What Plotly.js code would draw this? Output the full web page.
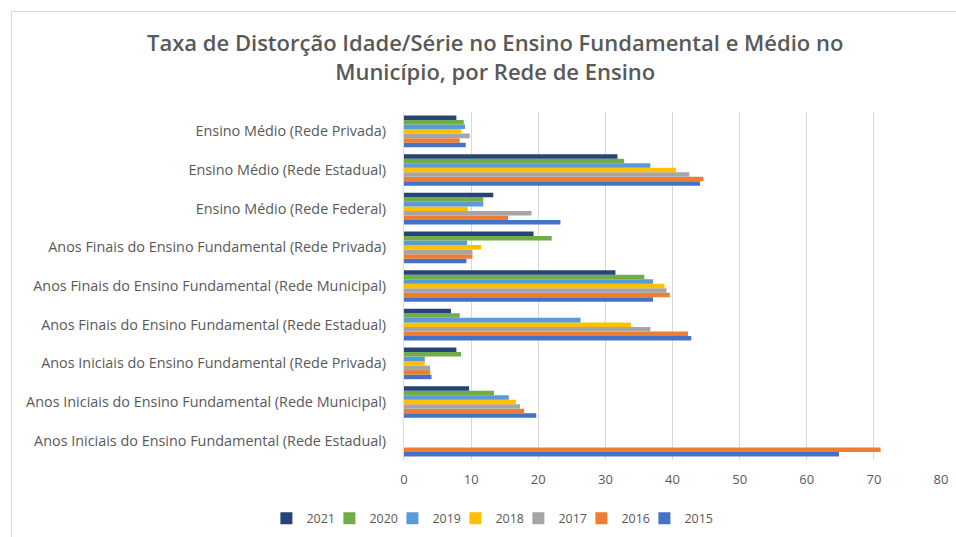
<!DOCTYPE html>
<html>
<head>
<meta charset="utf-8">
<script src="https://cdn.plot.ly/plotly-3.0.1.min.js"></script>
<style>
  html, body { margin: 0; padding: 0; background: #fff; }
  #wrap { position: relative; width: 956px; height: 537px; overflow: hidden; }
  #chart { width: 956px; height: 537px; }
  #frame { position: absolute; left: 11px; top: 11px; width: 960px; height: 540px;
           border-left: 1px solid #D9D9D9; border-top: 1px solid #D9D9D9; pointer-events: none; }
</style>
</head>
<body>
<div id="wrap">
  <div id="chart"></div>
  <div id="frame"></div>
</div>
<script>
const categories = [
  "Anos Iniciais do Ensino Fundamental (Rede Estadual)",
  "Anos Iniciais do Ensino Fundamental (Rede Municipal)",
  "Anos Iniciais do Ensino Fundamental (Rede Privada)",
  "Anos Finais do Ensino Fundamental (Rede Estadual)",
  "Anos Finais do Ensino Fundamental (Rede Municipal)",
  "Anos Finais do Ensino Fundamental (Rede Privada)",
  "Ensino Médio (Rede Federal)",
  "Ensino Médio (Rede Estadual)",
  "Ensino Médio (Rede Privada)"
];
const years = ["2015", "2016", "2017", "2018", "2019", "2020", "2021"];
const v2015 = [64.8, 19.7, 4.1, 42.8, 37.1, 9.3, 23.3, 44.1, 9.2];
const v2016 = [71.0, 17.9, 3.9, 42.3, 39.6, 10.2, 15.5, 44.6, 8.3];
const v2017 = [null, 17.3, 3.9, 36.7, 39.1, 10.2, 19.0, 42.5, 9.8];
const v2018 = [null, 16.7, 3.1, 33.8, 38.8, 11.5, 9.5, 40.5, 8.5];
const v2019 = [null, 15.6, 3.1, 26.3, 37.1, 9.4, 11.8, 36.7, 9.1];
const v2020 = [null, 13.4, 8.5, 8.3, 35.8, 22.0, 11.8, 32.8, 8.9];
const v2021 = [null, 9.7, 7.8, 7.0, 31.5, 19.3, 13.3, 31.8, 7.8];
const seriesValues = [v2015, v2016, v2017, v2018, v2019, v2020, v2021];
const colors = ["#4472C4", "#ED7D31", "#A5A5A5", "#FFC000", "#5B9BD5", "#70AD47", "#264478"];
const xTicks = [0, 10, 20, 30, 40, 50, 60, 70, 80];

const traces = years.map((y, i) => ({
  type: "bar",
  orientation: "h",
  name: y,
  y: categories,
  x: seriesValues[i],
  marker: { color: colors[i] },
  hoverinfo: "x+name"
}));

const font = "'Open Sans', sans-serif";
const layout = {
  width: 956,
  height: 537,
  margin: { l: 404, r: 15, t: 112, b: 77, autoexpand: false },
  paper_bgcolor: "#ffffff",
  plot_bgcolor: "#ffffff",
  barmode: "group",
  bargap: 0.18,
  bargroupgap: 0,
  title: {
    text: "Taxa de Distorção Idade/Série no Ensino Fundamental e Médio no<br>Município, por Rede de Ensino",
    font: { family: font, size: 22, color: "#595959", weight: 600 },
    x: 0.518, xanchor: "center",
    y: 0.905, yanchor: "top"
  },
  xaxis: {
    range: [0, 80],
    tickvals: xTicks,
    showgrid: true,
    gridcolor: "#D9D9D9",
    gridwidth: 1,
    zeroline: false,
    showline: false,
    ticks: "",
    tickfont: { family: font, size: 13, color: "#595959" },
    ticklabelstandoff: 10
  },
  yaxis: {
    type: "category",
    showgrid: false,
    zeroline: false,
    showline: true,
    linecolor: "#D9D9D9",
    ticks: "",
    tickfont: { family: font, size: 14.4, color: "#595959" },
    ticklabelstandoff: 14
  },
  showlegend: true,
  legend: {
    orientation: "h",
    traceorder: "reversed",
    x: 0.173, xanchor: "center",
    yref: "container",
    y: 0.062, yanchor: "top",
    font: { family: font, size: 12.5, color: "#595959" },
    itemwidth: 30,
    indentation: -10,
    entrywidth: 28,
    entrywidthmode: "pixels"
  }
};

Plotly.newPlot("chart", traces, layout, { displayModeBar: false, staticPlot: true });
</script>
</body>
</html>
